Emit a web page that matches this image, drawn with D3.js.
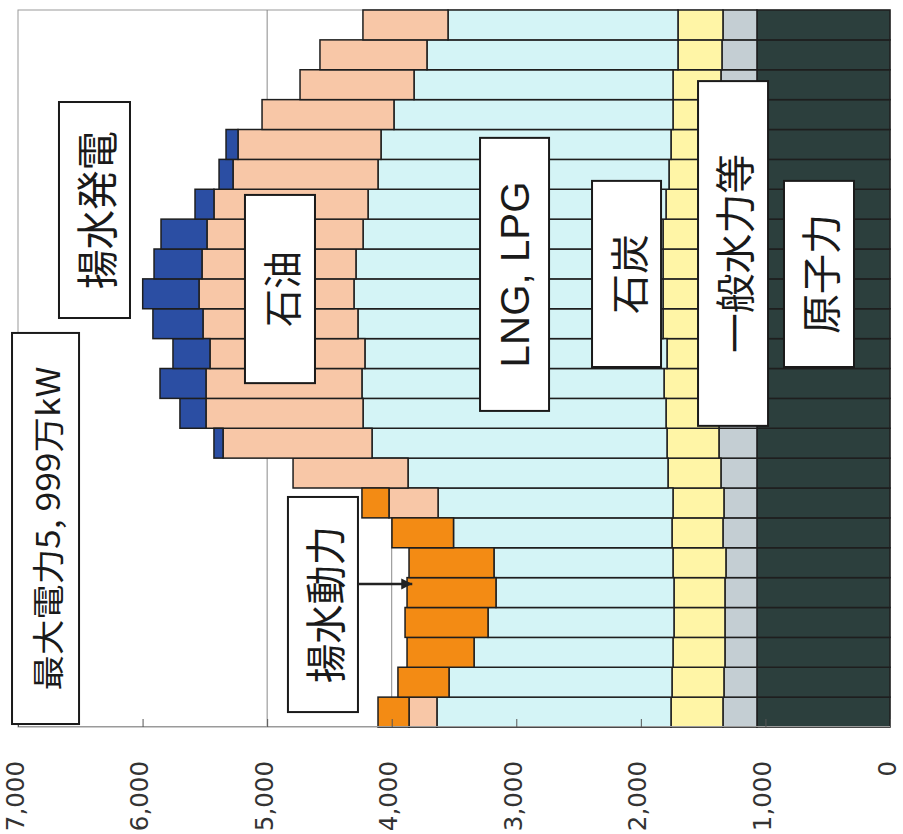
<!DOCTYPE html>
<html><head><meta charset="utf-8">
<script src="https://cdn.jsdelivr.net/npm/d3@7"></script>
<style>body{margin:0;background:#fff}</style>
</head><body>
<svg id="chart" width="903" height="834"></svg>
<script>
// ---- data (hours 1..24, values in 万kW) ----
const hours = [1,2,3,4,5,6,7,8,9,10,11,12,13,14,15,16,17,18,19,20,21,22,23,24];
const seriesKeys = ["nuclear","hydro","coal","lng","oil","pumpedGen","pumping"];
const seriesNames = ["原子力","一般水力等","石炭","LNG, LPG","石油","揚水発電","揚水動力"];
const nuclear   = [1068,1068,1068,1068,1068,1068,1068,1068,1068,1068,1068,1068,1068,1068,1068,1068,1068,1068,1068,1068,1068,1068,1068,1068];
const hydro     = [273,265,257,257,257,249,273,265,289,305,305,310,310,310,310,310,305,300,295,290,290,289,281,273];
const coal      = [417,417,417,409,409,425,409,409,425,417,425,436,412,444,444,444,449,430,411,400,384,385,353,361];
const lng       = [1879,1790,1597,1493,1429,1437,1754,1886,2087,2368,2432,2425,2425,2449,2481,2465,2408,2392,2336,2328,2240,2079,2015,1846];
const oil       = [224,0,0,0,0,0,0,394,923,1196,1261,1252,1244,1244,1244,1236,1253,1237,1164,1148,1059,915,859,683];
const pumpedGen = [0,0,0,0,0,0,0,0,0,73,209,369,297,402,452,385,369,152,112,96,0,0,0,0];
const pumping   = [249,410,538,666,714,682,494,217,0,0,0,0,0,0,0,0,0,0,0,0,0,0,0,0];
const valueTicks = [0,1000,2000,3000,4000,5000,6000,7000];
const gridValues = [4000,5000];
const peakLabel = "最大電力5, 999万kW";

// ---- styles ----
const colors = {nuclear:"#2c3f3d", hydro:"#c4ced3", coal:"#fff5a6", lng:"#d4f4f6",
                oil:"#f8c7a7", pumpedGen:"#2b4ea3", pumping:"#f38b14"};

const rows = hours.map((h,i)=>({hour:h, nuclear:nuclear[i], hydro:hydro[i], coal:coal[i],
  lng:lng[i], oil:oil[i], pumpedGen:pumpedGen[i], pumping:pumping[i]}));
const stacked = d3.stack().keys(seriesKeys)(rows);

const svg = d3.select("#chart");
const plotLeft = 18, plotBottom = 727, plotLen = 717, valLen = 872;
// chart is drawn upright in local coords, then rotated -90deg
const g = svg.append("g").attr("transform", `translate(${plotLeft},${plotBottom}) rotate(-90)`);

const x = d3.scaleBand().domain(hours).range([0, plotLen]).padding(0);
const hpos = d3.scaleLinear().domain([0, 24]).range([0, plotLen]);
const y = d3.scaleLinear().domain([0, 7000]).range([valLen, 0]);

// plot border
g.append("rect").attr("x",0).attr("y",0).attr("width",plotLen).attr("height",valLen)
  .attr("fill","none").attr("stroke","#9a9a9a").attr("stroke-width",1);

// gridlines
g.selectAll("line.grid").data(gridValues).join("line").attr("class","grid")
  .attr("x1",0).attr("x2",plotLen).attr("y1",d=>y(d)).attr("y2",d=>y(d))
  .attr("stroke","#8a8a8a").attr("stroke-width",1);

// bars
g.selectAll("g.series").data(stacked).join("g").attr("class","series")
  .attr("fill", s=>colors[s.key])
  .selectAll("rect").data(s=>s.filter(d=>d[1]-d[0]>0)).join("rect")
  .attr("x", d=>x(d.data.hour)).attr("width", x.bandwidth())
  .attr("y", d=>y(d[1])).attr("height", d=>y(d[0])-y(d[1]))
  .attr("stroke","#1e1e1e").attr("stroke-width",1.5);

// value axis (appears at bottom after rotation)
const axis = g.append("g").call(d3.axisLeft(y).tickValues(valueTicks)
  .tickFormat(d3.format(",")).tickSizeInner(-8).tickSizeOuter(0).tickPadding(34));
axis.select(".domain").attr("stroke","#9a9a9a");
axis.selectAll(".tick line").attr("stroke","#555");
axis.selectAll("text").attr("font-family","DejaVu Sans, Verdana, sans-serif")
  .attr("font-size",25).attr("fill","#333").attr("dy","0.2em")
  .each(function(){ const L=this.getComputedTextLength();
    d3.select(this).attr("textLength", L*0.98).attr("lengthAdjust","spacingAndGlyphs"); });

// annotation boxes (value extents, hour-position extents)
const annots = [
  {t:peakLabel, v:[6510,7048], h:[0.10,13.19], fs:32, len:324},
  {t:seriesNames[5], v:[6101,6671], h:[13.69,20.92], fs:42, len:158},
  {t:seriesNames[4], v:[4616,5178], h:[11.51,17.81], fs:39, len:76},
  {t:seriesNames[3], v:[2737,3291], h:[10.58,19.72], fs:40, len:186, latin:true},
  {t:seriesNames[2], v:[1838,2392], h:[12.05,18.28], fs:39, len:80},
  {t:seriesNames[1], v:[979,1541], h:[10.08,21.62], fs:40, len:199},
  {t:seriesNames[0], v:[289,851], h:[12.05,18.28], fs:40, len:120},
  {t:seriesNames[6], v:[4271,4833], h:[0.50,7.70], fs:41, len:157}
];

// arrow marker
svg.append("defs").append("marker").attr("id","arr").attr("viewBox","0 0 10 10")
  .attr("refX",10).attr("refY",5).attr("markerUnits","userSpaceOnUse")
  .attr("markerWidth",11).attr("markerHeight",13)
  .attr("orient","auto").append("path").attr("d","M0,0L10,5L0,10z").attr("fill","#222");

const ag = g.append("g");
annots.forEach(a=>{
  const x0 = hpos(a.h[0]), x1 = hpos(a.h[1]);
  const y0 = y(a.v[1]), y1 = y(a.v[0]);
  ag.append("rect").attr("x",x0).attr("y",y0).attr("width",x1-x0).attr("height",y1-y0)
    .attr("fill","#fff").attr("stroke","#1a1a1a").attr("stroke-width",2);
  ag.append("text").attr("x",(x0+x1)/2).attr("y",(y0+y1)/2)
    .attr("text-anchor","middle").attr("dominant-baseline","central")
    .attr("font-family", a.latin ? "Liberation Sans, Arial, sans-serif" : "Noto Sans CJK JP, sans-serif")
    .attr("font-size",a.fs).attr("fill","#1a1a1a")
    .attr("textLength",a.len).attr("lengthAdjust","spacingAndGlyphs")
    .text(a.t);
});

// arrow from 揚水動力 box to the pumping bars
ag.append("line").attr("x1",hpos(4.79)).attr("x2",hpos(4.79))
  .attr("y1",y(4271)).attr("y2",y(3835))
  .attr("stroke","#222").attr("stroke-width",2.5).attr("marker-end","url(#arr)");
</script>
</body></html>
